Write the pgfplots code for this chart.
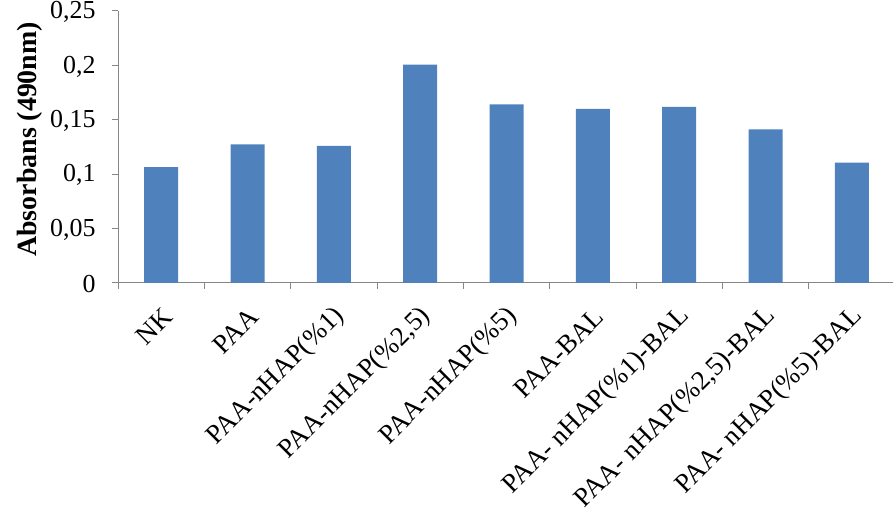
\documentclass[border=0pt]{standalone}
\usepackage{fontspec}
\setmainfont{Liberation Serif}
\usepackage{pgfplots}
\pgfplotsset{compat=1.18}
\definecolor{barblue}{HTML}{4F81BD}
\definecolor{axisgray}{HTML}{868686}
\begin{document}
\begin{tikzpicture}[x=1bp,y=1bp]
\useasboundingbox (0,0) rectangle (893,515);
\begin{axis}[
  at={(118bp,232bp)}, anchor=south west,
  scale only axis, width=777bp, height=272bp,
  xmin=-0.5, xmax=8.5, ymin=0, ymax=0.25,
  axis x line*=bottom, axis y line*=left,
  axis line style={axisgray, line width=1bp},
  ybar, bar width=34bp,
  xtick={0,...,8},
  xticklabels={NK, PAA, {PAA-nHAP(\%1)}, {PAA-nHAP(\%2,5)}, {PAA-nHAP(\%5)}, PAA-BAL,
    {PAA- nHAP(\%1)-BAL}, {PAA- nHAP(\%2,5)-BAL}, {PAA- nHAP(\%5)-BAL}},
  major x tick style={draw=none},
  minor xtick={-0.5,0.5,...,8.5},
  minor tick length=6bp,
  major tick length=6bp,
  tick align=outside,
  every tick/.style={axisgray, line width=1bp},
  ytick={0,0.05,0.1,0.15,0.2,0.25},
  /pgf/number format/use comma,
  /pgf/number format/fixed,
  /pgf/number format/precision=2,
  /pgf/number format/assume math mode=true,
  yticklabel style={font=\fontsize{26}{30}\selectfont, xshift=-13bp, yshift=-1bp},
  xticklabel style={font=\fontsize{27}{31}\selectfont, xshift=9bp, yshift=-21bp, rotate=45, anchor=east},
  ylabel={\textbf{Absorbans (490nm)}},
  ylabel style={font=\fontsize{28}{32}\selectfont, at={(axis description cs:-0.113,0.528)}, anchor=center},
]
\addplot[fill=barblue, draw=none] coordinates {
  (0,0.1065) (1,0.1275) (2,0.1260) (3,0.2006) (4,0.1642)
  (5,0.1600) (6,0.1618) (7,0.1413) (8,0.1106)
};
\end{axis}
\end{tikzpicture}
\end{document}
